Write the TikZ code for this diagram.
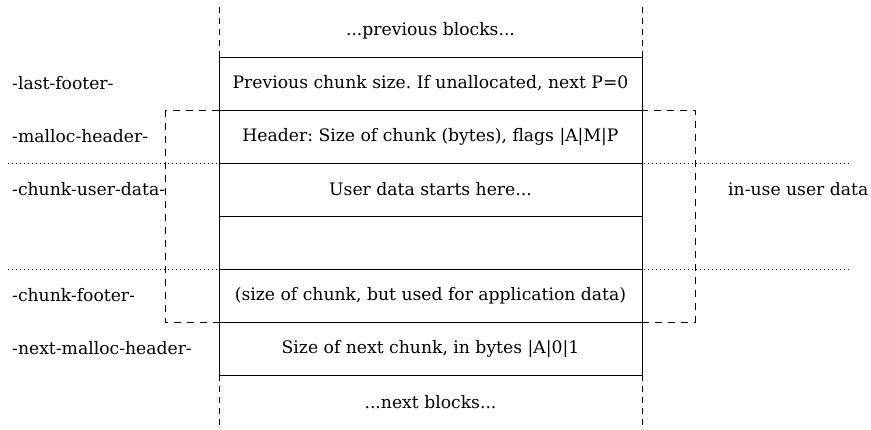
\documentclass[tikz,border=0pt]{standalone}
\usepackage{fontspec}
\setmainfont{DejaVu Serif}
\usetikzlibrary{positioning, calc}
\frenchspacing

\begin{document}
\begin{tikzpicture}[
  font=\fontsize{17.2}{20}\selectfont,
  chunkrow/.style={
    rectangle, draw=black, line width=0.9pt,
    minimum width=423pt, minimum height=53pt,
    inner sep=0pt, outer sep=0pt, anchor=north,
  },
  blankrow/.style={
    rectangle, minimum width=423pt, minimum height=53pt,
    inner sep=0pt, outer sep=0pt,
  },
  sidelabel/.style={anchor=west, inner sep=0pt},
  sidedash/.style={line width=0.8pt, dash pattern=on 6pt off 5pt},
  regiondash/.style={line width=0.8pt, dash pattern=on 7pt off 6pt},
  boundary/.style={line width=0.8pt, dash pattern=on 1pt off 3pt},
]
\path[use as bounding box] (0pt,0pt) rectangle (871pt,-430pt);

% memory rows
\node[chunkrow] (lastfoot) at (430.5pt,-57pt) {Previous chunk size. If unallocated, next P=0};
\node[chunkrow, below=0pt of lastfoot] (header) {Header: Size of chunk (bytes), flags |A|M|P};
\node[chunkrow, below=0pt of header] (userdata) {User data starts here...};
\node[chunkrow, below=0pt of userdata] (userdatab) {};
\node[chunkrow, below=0pt of userdatab] (footer) {(size of chunk, but used for application data)};
\node[chunkrow, below=0pt of footer] (nextheader) {Size of next chunk, in bytes |A|0|1};
\node[blankrow, minimum height=52pt, above=0pt of lastfoot] (prevblocks) {...previous blocks...};
\node[blankrow, minimum height=55pt, below=0pt of nextheader] (nextblocks) {...next blocks...};

% open ends
\draw[sidedash] (prevblocks.south west) -- (prevblocks.north west);
\draw[sidedash] (prevblocks.south east) -- (prevblocks.north east);
\draw[sidedash] (nextblocks.north west) -- (nextblocks.south west);
\draw[sidedash] (nextblocks.north east) -- (nextblocks.south east);

% in-use region
\draw[regiondash] ($(header.north west)+(-54pt,0)$) rectangle ($(footer.south east)+(53pt,0)$);
\draw[boundary] ($(header.south west)+(-211pt,0)$) -- ($(header.south east)+(210pt,0)$);
\draw[boundary] ($(footer.north west)+(-211pt,0)$) -- ($(footer.north east)+(210pt,0)$);

% labels
\node[sidelabel] (lblast) at (12pt,-83.5pt) {-last-footer-};
\node[sidelabel] (lbhead) at (12pt,-136.5pt) {-malloc-header-};
\node[sidelabel] (lbuser) at (12pt,-189.5pt) {-chunk-user-data-};
\node[sidelabel] (lbfoot) at (12pt,-295.5pt) {-chunk-footer-};
\node[sidelabel] (lbnext) at (12pt,-348.5pt) {-next-malloc-header-};
\node[sidelabel] (lbinuse) at (728pt,-189.5pt) {in-use user data};
\end{tikzpicture}
\end{document}
